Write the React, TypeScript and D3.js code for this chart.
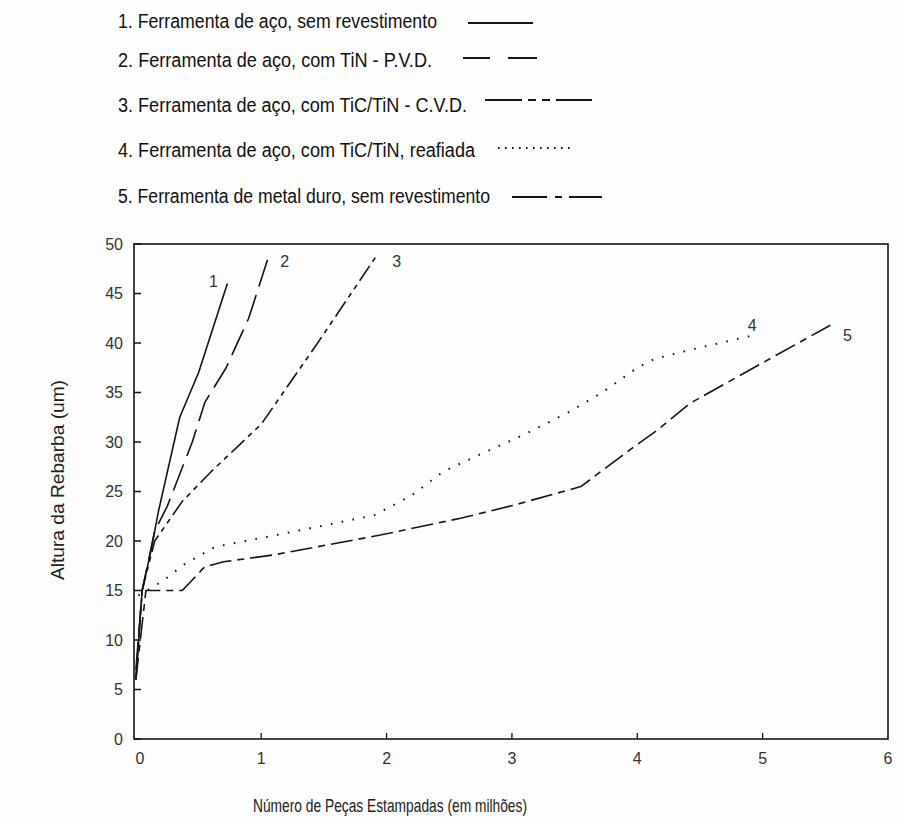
import React, { useRef, useEffect } from 'react';
import * as d3 from 'd3';

// [millions of parts, burr height in um]
const tool1: [number, number][] = [[0, 6], [0.05, 15], [0.12, 19], [0.18, 23], [0.35, 32.5], [0.5, 37], [0.73, 46]];
const tool2: [number, number][] = [[0, 7], [0.05, 15], [0.15, 21], [0.25, 23.5], [0.45, 30], [0.55, 34], [0.72, 37.5], [0.9, 42.5], [1.06, 48.8]];
const tool3: [number, number][] = [[0, 6], [0.05, 15], [0.15, 20], [0.37, 24], [0.6, 27], [1.0, 31.8], [1.45, 40], [1.93, 49]];
const tool4: [number, number][] = [[0.02, 14.5], [0.22, 16], [0.38, 17.6], [0.63, 19.4], [1.2, 20.8], [1.9, 22.6], [2.2, 24.6], [2.45, 27], [2.72, 28.6], [3.09, 30.7], [3.45, 33], [3.72, 35], [4.0, 37.5], [4.14, 38.4], [4.42, 39.3], [4.9, 40.7]];
const tool5: [number, number][] = [[0, 6], [0.08, 15], [0.37, 15], [0.55, 17.4], [0.7, 17.9], [1.1, 18.6], [1.95, 20.6], [2.59, 22.3], [3.01, 23.6], [3.55, 25.5], [3.94, 29.2], [4.16, 31.2], [4.42, 33.9], [4.9, 37.3], [5.54, 41.8]];

const legendLabels = [
    '1. Ferramenta de aço, sem revestimento',
    '2. Ferramenta de aço, com TiN - P.V.D.',
    '3. Ferramenta de aço, com TiC/TiN - C.V.D.',
    '4. Ferramenta de aço, com TiC/TiN, reafiada',
    '5. Ferramenta de metal duro, sem revestimento',
];
const curveNames = ['1', '2', '3', '4', '5'];
const xTicks = [0, 1, 2, 3, 4, 5, 6];
const yTicks = [0, 5, 10, 15, 20, 25, 30, 35, 40, 45, 50];
const xTitle = 'Número de Peças Estampadas (em milhões)';
const yTitle = 'Altura da Rebarba (um)';

const FONT = "'Liberation Sans', Arial, sans-serif";
const INK = '#151515';

const App: React.FC = () => {
    const svgRef = useRef<SVGSVGElement>(null);

    useEffect(() => {
        if (!svgRef.current) return;
        const svg = d3.select(svgRef.current);
        svg.selectAll('*').remove();

        const left = 134, right = 888, top = 244, bottom = 739;

        const xScale = d3.scaleLinear().domain([-0.015, 6]).range([left, right]);
        const yScale = d3.scaleLinear().domain([0, 50]).range([bottom, top]);

        svg.append('rect').attr('width', 900).attr('height', 825).attr('fill', '#fdfdfd');

        // frame
        svg.append('rect')
            .attr('x', left).attr('y', top)
            .attr('width', right - left).attr('height', bottom - top)
            .attr('fill', 'none').attr('stroke', INK).attr('stroke-width', 1.6);

        // y ticks (inside)
        const yg = svg.append('g');
        yTicks.forEach(t => {
            yg.append('line')
                .attr('x1', left).attr('x2', left + 7)
                .attr('y1', yScale(t)).attr('y2', yScale(t))
                .attr('stroke', INK).attr('stroke-width', 1.5);
            yg.append('text')
                .attr('x', 123).attr('y', yScale(t))
                .attr('text-anchor', 'end').attr('dominant-baseline', 'central')
                .attr('font-family', FONT).attr('font-size', 16).attr('fill', '#333')
                .text(t);
        });

        // x ticks (inside)
        const xg = svg.append('g');
        xTicks.forEach(t => {
            if (t > 0 && t < 6) {
                xg.append('line')
                    .attr('x1', xScale(t)).attr('x2', xScale(t))
                    .attr('y1', bottom).attr('y2', bottom - 6)
                    .attr('stroke', INK).attr('stroke-width', 1.3);
            }
            xg.append('text')
                .attr('x', xScale(t) + (t === 0 ? 4 : 0)).attr('y', 758)
                .attr('text-anchor', 'middle').attr('dominant-baseline', 'central')
                .attr('font-family', FONT).attr('font-size', 16).attr('fill', '#333')
                .text(t);
        });

        // axis titles
        svg.append('text')
            .attr('x', 390).attr('y', 812)
            .attr('text-anchor', 'middle')
            .attr('font-family', FONT).attr('font-size', 19).attr('fill', '#222')
            .attr('textLength', 274).attr('lengthAdjust', 'spacingAndGlyphs')
            .text(xTitle);
        svg.append('text')
            .attr('transform', `translate(64, 480) rotate(-90)`)
            .attr('text-anchor', 'middle')
            .attr('font-family', FONT).attr('font-size', 19).attr('fill', '#222')
            .attr('textLength', 200).attr('lengthAdjust', 'spacingAndGlyphs')
            .text(yTitle);

        // curves
        const series = [tool1, tool2, tool3, tool4, tool5];
        const dashes = [null, '28,9', '18,5,5,5,5,5', '1.6,9.4', '22,6,7,6'];
        const labelOffsets: [number, number][] = [[-14, -2], [16, 6], [19, 8], [2, -11], [17, 10]];
        const line = d3.line<[number, number]>()
            .x(d => xScale(d[0]))
            .y(d => yScale(d[1]));

        series.forEach((s, i) => {
            svg.append('path')
                .attr('d', line(s) as string)
                .attr('fill', 'none')
                .attr('stroke', INK)
                .attr('stroke-width', i === 3 ? 2 : 1.6)
                .attr('stroke-dasharray', dashes[i])
                .attr('stroke-linejoin', 'round');

            const last = s[s.length - 1];
            svg.append('text')
                .attr('x', xScale(last[0]) + labelOffsets[i][0])
                .attr('y', yScale(last[1]) + labelOffsets[i][1])
                .attr('text-anchor', 'middle').attr('dominant-baseline', 'central')
                .attr('font-family', FONT).attr('font-size', 16).attr('fill', '#333')
                .text(curveNames[i]);
        });

        // legend
        const legendBaselines = [28, 67, 112, 157, 203];
        const legendWidths = [319, 314, 349, 357, 372];
        const legendLineY = [23, 58, 100, 148, 197];
        const legendLineX: [number, number][] = [[468, 533], [463, 537], [485, 593], [498, 575], [512, 602]];
        const legendDashes = [null, '27,18,29', '37,6,8,6,8,6,36', '1.6,5.4', '35,8,7,7,33'];

        const lg = svg.append('g');
        legendLabels.forEach((lab, i) => {
            lg.append('text')
                .attr('x', 118).attr('y', legendBaselines[i])
                .attr('font-family', FONT).attr('font-size', 20).attr('fill', '#111')
                .attr('textLength', legendWidths[i]).attr('lengthAdjust', 'spacingAndGlyphs')
                .text(lab);
            lg.append('line')
                .attr('x1', legendLineX[i][0]).attr('x2', legendLineX[i][1])
                .attr('y1', legendLineY[i]).attr('y2', legendLineY[i])
                .attr('stroke', INK)
                .attr('stroke-width', i === 3 ? 2 : 1.8)
                .attr('stroke-dasharray', legendDashes[i]);
        });
    }, []);

    return (
        <svg
            ref={svgRef}
            width={900}
            height={825}
            style={{ position: 'absolute', left: 0, top: 0, display: 'block' }}
        />
    );
};

export default App;
